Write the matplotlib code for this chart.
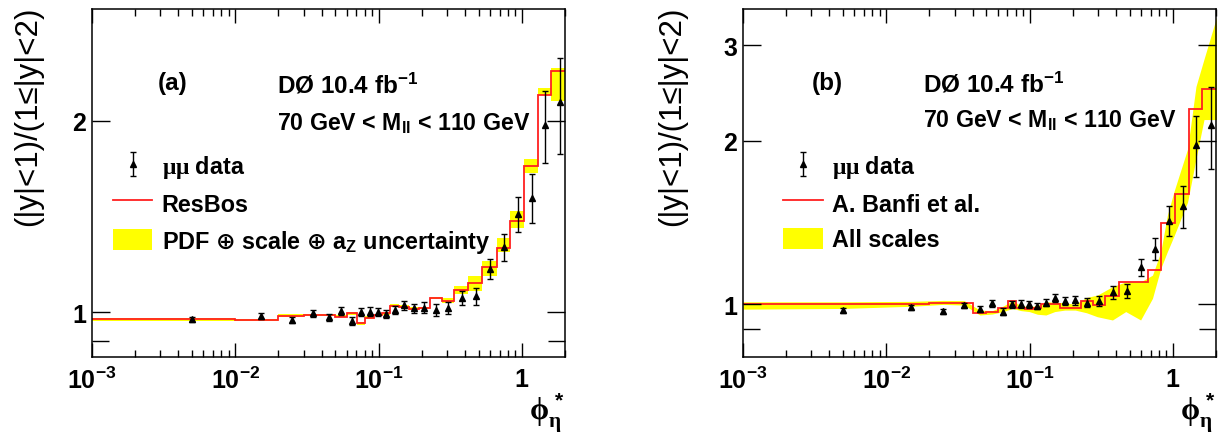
import numpy as np
import matplotlib
matplotlib.use('Agg')
import matplotlib.pyplot as plt
from matplotlib.ticker import FixedLocator, FixedFormatter, NullFormatter

plt.rcParams['font.family'] = ['Liberation Sans', 'DejaVu Sans']
plt.rcParams['font.weight'] = 'bold'
plt.rcParams['mathtext.fontset'] = 'custom'
plt.rcParams['mathtext.rm'] = 'Liberation Serif'
plt.rcParams['mathtext.it'] = 'Liberation Serif:italic'
plt.rcParams['mathtext.bf'] = 'Liberation Sans:bold'
plt.rcParams['mathtext.sf'] = 'DejaVu Sans'
plt.rcParams['mathtext.default'] = 'bf'

# phi*_eta bins
edges = np.array([0, 0.01, 0.02, 0.03, 0.04, 0.05, 0.06, 0.071, 0.081, 0.093, 0.106,
                  0.121, 0.139, 0.162, 0.19, 0.227, 0.276, 0.338, 0.421, 0.529, 0.67,
                  0.83, 1.04, 1.3, 1.6, 2.1])

# mu mu data: ratio (|y|<1)/(1<=|y|<2)
ratio_data = [0.975, 0.987, 0.972, 0.996, 0.982, 1.005, 0.969, 1.000, 1.002, 1.000,
              0.993, 1.008, 1.026, 1.014, 1.017, 1.008, 1.014, 1.052, 1.060, 1.171,
              1.266, 1.427, 1.515, 1.970, 2.143]
ratio_err = [0.009, 0.010, 0.010, 0.012, 0.012, 0.014, 0.015, 0.015, 0.016, 0.015,
             0.014, 0.014, 0.017, 0.017, 0.019, 0.021, 0.022, 0.027, 0.032, 0.043,
             0.061, 0.092, 0.134, 0.255, 0.370]

# (a) ResBos prediction and PDF+scale+aZ uncertainty
resbos = [0.975, 0.972, 0.987, 0.990, 0.990, 0.984, 0.996, 0.961, 0.979, 0.990,
          0.996, 1.023, 1.020, 1.012, 1.014, 1.053, 1.042, 1.083, 1.112, 1.178,
          1.263, 1.393, 1.697, 2.200, 2.400]
resbos_lo = [0.967, 0.969, 0.982, 0.986, 0.986, 0.981, 0.990, 0.955, 0.975, 0.985,
             0.990, 1.019, 1.015, 1.008, 1.010, 1.047, 1.035, 1.067, 1.080, 1.139,
             1.244, 1.357, 1.658, 2.195, 2.150]
resbos_hi = [0.978, 0.976, 0.994, 0.994, 0.994, 0.988, 1.000, 0.965, 0.985, 0.995,
             1.000, 1.029, 1.025, 1.018, 1.020, 1.058, 1.054, 1.100, 1.139, 1.202,
             1.309, 1.444, 1.743, 2.256, 2.426]

# (b) A. Banfi et al. prediction and all-scales band
banfi = [1.000, 1.002, 1.005, 1.006, 0.966, 0.970, 0.986, 1.014, 0.986, 0.979,
         0.983, 1.000, 1.003, 0.986, 0.983, 1.014, 0.997, 1.035, 1.100, 1.100,
         1.155, 1.415, 1.600, 2.290, 2.490]
band_x = [0.001, 0.005, 0.015, 0.025, 0.035, 0.045, 0.055, 0.0655, 0.076, 0.087,
          0.0995, 0.1135, 0.13, 0.15, 0.176, 0.2085, 0.25, 0.297, 0.379, 0.469,
          0.596, 0.721, 0.823, 0.915, 1.023, 1.267, 1.45, 1.65, 2.1]
band_lo = [0.980, 0.983, 0.992, 1.000, 0.997, 0.956, 0.960, 0.970, 0.983, 0.974,
           0.970, 0.959, 0.956, 0.970, 0.976, 0.976, 0.965, 0.949, 0.936, 0.970,
           0.936, 1.026, 1.164, 1.250, 1.340, 1.543, 1.853, 2.190, 2.190]
band_hi = [1.011, 1.011, 1.013, 1.017, 1.016, 0.976, 0.974, 0.993, 1.016, 0.995,
           0.990, 0.995, 1.011, 1.009, 1.007, 1.000, 1.030, 1.040, 1.078, 1.100,
           1.100, 1.132, 1.249, 1.458, 1.620, 1.933, 2.520, 2.830, 3.500]

xticks = [1e-3, 1e-2, 1e-1, 1]
xticklabels = [r'$10^{-3}$', r'$10^{-2}$', r'$10^{-1}$', '1']

centers = (edges[:-1] + edges[1:]) / 2
yellow = '#ffff00'
red = '#ff2020'

fig = plt.figure(figsize=(12.2, 4.35), dpi=100)
axa = fig.add_axes([0.0754, 0.177, 0.3877, 0.8])
axb = fig.add_axes([0.609, 0.177, 0.3877, 0.8])


def style(ax, ylim, yticks, ylabx):
    ax.set_xscale('log')
    ax.set_yscale('log')
    ax.set_xlim(1e-3, 2.0)
    ax.set_ylim(*ylim)
    ax.xaxis.set_major_locator(FixedLocator(xticks))
    ax.xaxis.set_major_formatter(FixedFormatter(xticklabels))
    ax.xaxis.set_minor_formatter(NullFormatter())
    ax.yaxis.set_major_locator(FixedLocator(yticks))
    ax.yaxis.set_major_formatter(FixedFormatter([str(t) for t in yticks]))
    ax.yaxis.set_minor_locator(FixedLocator([0.9]))
    ax.yaxis.set_minor_formatter(NullFormatter())
    ax.tick_params(which='both', direction='in', top=True, right=True, width=1)
    ax.tick_params(axis='x', which='major', length=10, labelsize=18, pad=7)
    ax.tick_params(axis='x', which='minor', length=5)
    ax.tick_params(axis='y', which='major', length=13, labelsize=18, pad=4)
    ax.tick_params(axis='y', which='minor', length=12)
    for s in ax.spines.values():
        s.set_linewidth(1.1)
    ax.set_ylabel('(|y|<1)/(1≤|y|<2)', fontsize=22.5, loc='top')
    ax.yaxis.set_label_coords(ylabx, 1.01)
    ax.set_xlabel(r'$\mathrm{\phi}_{\mathrm{\eta}}^{\,*}$', fontsize=22, loc='right')
    ax.xaxis.set_label_coords(1.0, -0.092)


oplus = r'$\mathsf{\oplus}$'

# (a)
band_a = axa.stairs(resbos_hi, edges, baseline=resbos_lo, fill=True, color=yellow, lw=0)
line_a = axa.stairs(resbos, edges, baseline=None, color=red, lw=1.3)
dat_a = axa.errorbar(centers, ratio_data, yerr=ratio_err, fmt='^', color='k', ms=5,
                     elinewidth=1, capsize=2, capthick=1)
style(axa, (0.85, 3.0), [1, 2], -0.104)
axa.text(0.14, 0.77, '(a)', transform=axa.transAxes, fontsize=17.5)
axa.text(0.391, 0.761, r'DØ 10.4 fb$^{-1}$', transform=axa.transAxes, fontsize=17.5)
axa.text(0.391, 0.655, r'70 GeV < M$_{ll}$ < 110 GeV', transform=axa.transAxes, fontsize=16.7)
axa.legend([dat_a, line_a, band_a],
           [r'$\mathrm{\mu\mu}$ data', 'ResBos',
            'PDF ' + oplus + ' scale ' + oplus + r' a$_{Z}$ uncertainty'],
           loc='upper left', bbox_to_anchor=(0.044, 0.585), frameon=False, fontsize=16.8,
           borderaxespad=0, borderpad=0, handlelength=1.7, handletextpad=0.4,
           handleheight=1.05, labelspacing=0.5)

# (b)
band_b = axb.fill_between(band_x, band_lo, band_hi, color=yellow, lw=0)
line_b = axb.stairs(banfi, edges, baseline=None, color=red, lw=1.3)
dat_b = axb.errorbar(centers, ratio_data, yerr=ratio_err, fmt='^', color='k', ms=5,
                     elinewidth=1, capsize=2, capthick=1)
style(axb, (0.8, 3.5), [1, 2, 3], -0.118)
axb.text(0.146, 0.77, '(b)', transform=axb.transAxes, fontsize=17.5)
axb.text(0.381, 0.764, r'DØ 10.4 fb$^{-1}$', transform=axb.transAxes, fontsize=17.5)
axb.text(0.381, 0.664, r'70 GeV < M$_{ll}$ < 110 GeV', transform=axb.transAxes, fontsize=16.7)
axb.legend([dat_b, line_b, band_b],
           [r'$\mathrm{\mu\mu}$ data', 'A. Banfi et al.', 'All scales'],
           loc='upper left', bbox_to_anchor=(0.085, 0.585), frameon=False, fontsize=16.8,
           borderaxespad=0, borderpad=0, handlelength=1.7, handletextpad=0.4,
           handleheight=1.05, labelspacing=0.5)

fig.savefig('out.png', dpi=100)
